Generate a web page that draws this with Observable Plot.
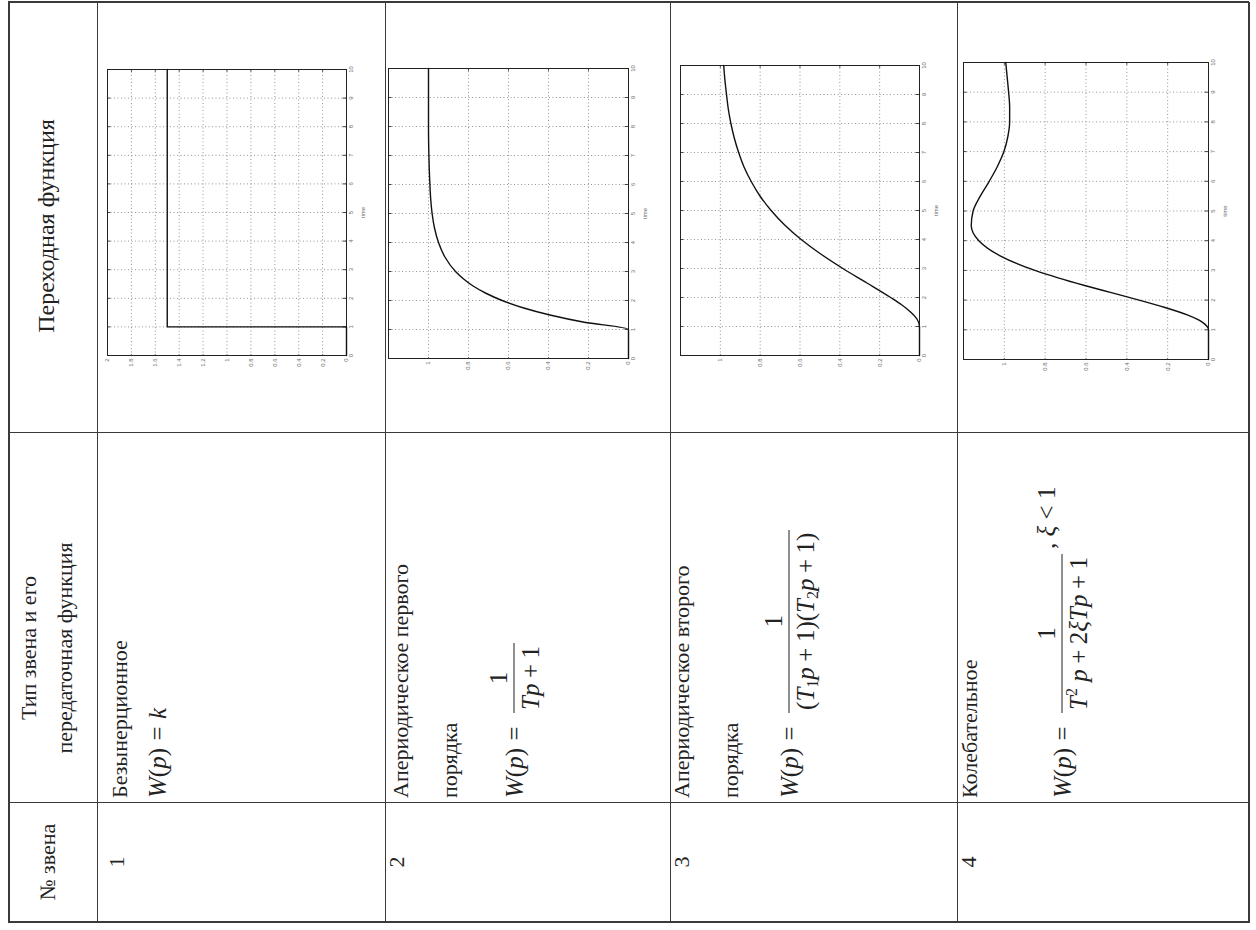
<!DOCTYPE html>
<html><head><meta charset="utf-8">
<script src="https://cdn.jsdelivr.net/npm/d3@7"></script>
<script src="https://cdn.jsdelivr.net/npm/@observablehq/plot@0.6"></script>
<style>
html,body{margin:0;padding:0;background:#fff;overflow:hidden;width:1256px;height:930px}
#page{position:absolute;left:8px;top:923px;width:920px;height:1240px;transform-origin:0 0;transform:rotate(-90deg);font-family:"Liberation Serif","Times New Roman",serif;color:#222}
.h{position:absolute;background:#3a3a3a;height:1px}
.v{position:absolute;background:#3a3a3a;width:1px}
.t{position:absolute;white-space:nowrap;font-size:22px;line-height:1;transform:translateY(-50%)}
.c{transform:translate(-50%,-50%)}
.m{font-size:25px}
.f{display:flex;align-items:center}
.frac{display:inline-flex;flex-direction:column;align-items:center;margin-left:6px}
.num{align-self:stretch;text-align:center;border-bottom:1px solid #222;padding:0 3px 3px}
.den{padding:3px 3px 0}
.op{margin:0 0.22em}
.eq{margin:0 0.3em}
sub{font-size:16px;vertical-align:-4px;line-height:0}
sup{font-size:16px;vertical-align:10px;line-height:0}
.plot{position:absolute}
</style></head><body><div id="page"></div>
<script>
// ---- table texts ----
const headNumber = "№ звена";
const headType = ["Тип звена и его", "передаточная функция"];
const headResponse = "Переходная функция";
const linkNumbers = ["1", "2", "3", "4"];
const linkNames = [["Безынерционное"], ["Апериодическое первого", "порядка"], ["Апериодическое второго", "порядка"], ["Колебательное"]];
const lhs = "<i>W</i>(<i>p</i>)<span class='eq'>=</span>";
const formula1 = "<i>W</i>(<i>p</i>)<span class='eq'>=</span><i>k</i>";
const numerators = ["1", "1", "1"];
const denominators = [
  "<i>Tp</i><span class='op'>+</span>1",
  "(<i>T</i><sub>1</sub><i>p</i><span class='op'>+</span>1)(<i>T</i><sub>2</sub><i>p</i><span class='op'>+</span>1)",
  "<i>T</i><sup>2</sup>&nbsp;<i>p</i><span class='op'>+</span>2<i>ξTp</i><span class='op'>+</span>1"
];
const condition4 = ", <i>ξ</i> &lt; 1";

// ---- chart data ----
const timeTicks = [0, 1, 2, 3, 4, 5, 6, 7, 8, 9, 10];
const valueTicks1 = [0, 0.2, 0.4, 0.6, 0.8, 1, 1.2, 1.4, 1.6, 1.8, 2];
const valueTicks = [0, 0.2, 0.4, 0.6, 0.8, 1];
const valueMax = [2, 1.2, 1.2, 1.2];

const time1 = [0, 1, 1, 10];
const resp1 = [0, 0, 1.5, 1.5];

const time2 = [0, 1, 1.25, 1.5, 1.75, 2, 2.25, 2.5, 2.75, 3, 3.5, 4, 4.5, 5, 5.5, 6, 7, 8, 9, 10];
const resp2 = [0, 0, 0.221, 0.393, 0.528, 0.632, 0.713, 0.777, 0.826, 0.865, 0.918, 0.95, 0.97, 0.982, 0.989, 0.993, 0.998, 1, 1, 1];

const time3 = [0, 1, 1.25, 1.5, 1.75, 2, 2.5, 3, 3.5, 4, 4.5, 5, 5.5, 6, 6.5, 7, 7.5, 8, 8.5, 9, 9.5, 10];
const resp3 = [0, 0, 0.012, 0.045, 0.09, 0.145, 0.264, 0.385, 0.496, 0.594, 0.677, 0.745, 0.801, 0.845, 0.881, 0.908, 0.93, 0.947, 0.96, 0.969, 0.977, 0.983];

const time4 = [0, 1, 1.25, 1.5, 1.75, 2, 2.25, 2.5, 2.75, 3, 3.5, 4, 4.5, 5, 5.5, 6, 6.5, 7, 7.5, 8, 8.5, 9, 9.5, 10];
const resp4 = [0, 0, 0.029, 0.104, 0.213, 0.34, 0.476, 0.611, 0.737, 0.85, 1.023, 1.125, 1.162, 1.153, 1.118, 1.074, 1.034, 1.002, 0.983, 0.974, 0.974, 0.979, 0.986, 0.993];

// ---- layout (unrotated page coordinates) ----
const colX = [0, 120, 490, 920];
const rowY = [0, 89, 377, 662, 949, 1240];
const frames = [
  {x0: 567, x1: 853, y0: 99, y1: 338},
  {x0: 564, x1: 854, y0: 380, y1: 620},
  {x0: 567, x1: 857, y0: 672, y1: 911},
  {x0: 563, x1: 860, y0: 955, y1: 1200}
];
const numY = [109, 389, 674, 961];
const nameY = [[112], [393, 442], [674, 723], [962]];
const formulaY = [149, 506, 781, 1054];
const textLeft = 125;

const page = document.getElementById("page");
function add(cls, css, html) {
  const d = document.createElement("div");
  d.className = cls;
  Object.assign(d.style, css);
  if (html != null) d.innerHTML = html;
  page.appendChild(d);
  return d;
}
// grid lines of the table
rowY.forEach((y, i) => add("h", {left: "0px", top: y + "px", width: (colX[3] + 1) + "px", height: (i === 0 || i === rowY.length - 1 ? 2 : 1) + "px"}));
colX.forEach((x, i) => add("v", {left: x + "px", top: "0px", height: (rowY[5] + 1) + "px", width: (i === 0 || i === colX.length - 1 ? 2 : 1) + "px"}));

// header
add("t c", {left: "61px", top: "40px"}, headNumber);
add("t c", {left: "275px", top: "21px"}, headType[0]);
add("t c", {left: "275px", top: "57px"}, headType[1]);
add("t c", {left: "697px", top: "38px", fontSize: "24px"}, headResponse);

// rows
linkNumbers.forEach((n, i) => add("t c", {left: "61px", top: numY[i] + "px"}, n));
linkNames.forEach((lines, i) => lines.forEach((s, j) => add("t", {left: textLeft + "px", top: nameY[i][j] + "px"}, s)));
add("t m", {left: textLeft + "px", top: formulaY[0] + "px"}, formula1);
for (let k = 0; k < 3; k++) {
  const extra = k === 2 ? `<span style="position:relative;top:-16px;margin-left:5px">${condition4}</span>` : "";
  add("t f m", {left: textLeft + "px", top: formulaY[k + 1] + "px"},
    `<span>${lhs}</span><span class="frac"><span class="num">${numerators[k]}</span><span class="den">${denominators[k]}</span></span>${extra}`);
}

// ---- transient response plots ----
const series = [[time1, resp1], [time2, resp2], [time3, resp3], [time4, resp4]];
series.forEach(([times, vals], i) => {
  const fr = frames[i];
  const mL = 16, mR = 8, mT = 4, mB = 26;
  const ymax = valueMax[i];
  const yticks = i === 0 ? valueTicks1 : valueTicks;
  const data = times.map((t, j) => ({t, v: vals[j]}));
  const innerT = timeTicks.filter(d => d > 0 && d < 10);
  const innerV = yticks.filter(d => d > 0 && d < ymax);
  const tl = ymax * 0.014, tt = 0.06;
  const svg = Plot.plot({
    width: fr.x1 - fr.x0 + mL + mR,
    height: fr.y1 - fr.y0 + mT + mB,
    marginLeft: mL, marginRight: mR, marginTop: mT, marginBottom: mB,
    style: {background: "transparent", fontFamily: "'Liberation Sans', Arial, sans-serif", fontSize: "6px", color: "#6a6a6a", overflow: "visible"},
    x: {domain: [0, 10]},
    y: {domain: [0, ymax]},
    marks: [
      Plot.gridX(innerT, {stroke: "#8a8a8a", strokeOpacity: 0.9, strokeDasharray: "1,2.5"}),
      Plot.gridY(innerV, {stroke: "#8a8a8a", strokeOpacity: 0.9, strokeDasharray: "1,2.5"}),
      Plot.ruleX(innerT, {y1: 0, y2: tl, stroke: "#444"}),
      Plot.ruleX(innerT, {y1: ymax - tl, y2: ymax, stroke: "#444"}),
      Plot.ruleY(innerV, {x1: 0, x2: tt, stroke: "#444"}),
      Plot.ruleY(innerV, {x1: 10 - tt, x2: 10, stroke: "#444"}),
      Plot.axisX(timeTicks, {tickSize: 0, tickPadding: 2, tickFormat: d => String(d), label: "time", labelAnchor: "center", labelArrow: "none", labelOffset: 18}),
      Plot.axisY(yticks, {tickSize: 0, tickPadding: 3, tickFormat: d => String(d), label: null}),
      Plot.frame({stroke: "#222", strokeWidth: 1}),
      Plot.line(data, {x: "t", y: "v", stroke: "#111", strokeWidth: 1.4, curve: i === 0 ? "linear" : "monotone-x"})
    ]
  });
  const holder = add("plot", {left: (fr.x0 - mL) + "px", top: (fr.y0 - mT) + "px"});
  holder.appendChild(svg);
});
</script></body></html>
